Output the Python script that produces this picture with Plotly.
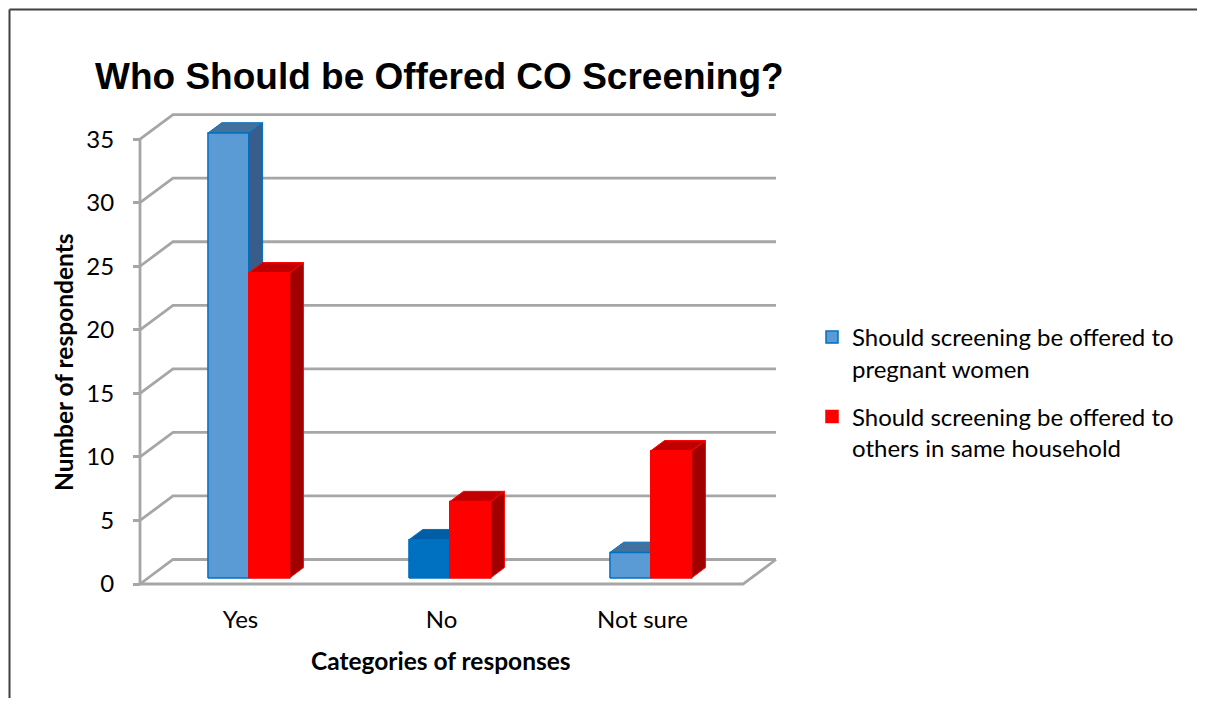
import plotly.graph_objects as go

# ---------------- data ----------------
categories = ["Yes", "No", "Not sure"]
series_names = ["Should screening be offered to<br>pregnant women",
                "Should screening be offered to<br>others in same household"]
pregnant_women = [35, 3, 2]
same_household = [24, 6, 10]
y_ticks = [0, 5, 10, 15, 20, 25, 30, 35]

# ---------------- styling / geometry ----------------
PAGE_OFF = 8                 # browser body margin
W, H = 1205 - 2 * PAGE_OFF, 706 - 2 * PAGE_OFF   # fit the window without scrollbars
# plot-area edges in screenshot pixels
SL, SR, ST, SB = 100, 800, 90, 603
ML, MT = SL - PAGE_OFF, ST - PAGE_OFF
PW, PH = SR - SL, SB - ST
MR, MB = W - ML - PW, H - MT - PH
PX_PER_CAT = 201.0
PX_PER_VAL = 12.71
X_FRONT0_PX = 240.5          # screenshot pixel of category 0 center on front plane
Y_ZERO_PX = 584.0            # screenshot pixel of value 0 on front plane
XMIN = (SL - X_FRONT0_PX) / PX_PER_CAT
XMAX = XMIN + PW / PX_PER_CAT
YMIN = -(SB - Y_ZERO_PX) / PX_PER_VAL
YMAX = (Y_ZERO_PX - ST) / PX_PER_VAL

DX = 33 / PX_PER_CAT         # depth offset (x units)
DY = 24.5 / PX_PER_VAL       # depth offset (value units)
D0, D1 = 0.25, 0.67          # bar depth span
BW = 0.203                   # bar width
YMAXV = 35

def paper(px, py):
    return (px - SL) / PW, (SB - py) / PH

grid_col = "#A6A6A6"
FONT = "Lato, Carlito, Calibri, sans-serif"

fig = go.Figure()

# back wall gridlines + left wall diagonals
gx, gy = [], []
left, right = -0.5, len(categories) - 0.5
for t in y_ticks:
    gx += [left, left + DX, right + DX, None]
    gy += [t, t + DY, t + DY, None]
fig.add_trace(go.Scatter(x=gx, y=gy, mode="lines", line=dict(color=grid_col, width=2.8),
                         hoverinfo="skip", showlegend=False))
fig.add_trace(go.Scatter(x=[left, right, right + DX], y=[0, 0, DY], mode="lines",
                         line=dict(color=grid_col, width=2.8), hoverinfo="skip", showlegend=False))
fig.add_trace(go.Scatter(x=[left, left], y=[0, YMAXV], mode="lines",
                         line=dict(color=grid_col, width=2.8), hoverinfo="skip", showlegend=False))

series = [
    dict(vals=pregnant_women, off=-BW, name=series_names[0],
         front=["#5B9BD5", "#0070C0", "#5B9BD5"],
         top=["#41719C", "#005DA6", "#41719C"],
         side=["#385D8A", "#004F8C", "#385D8A"],
         edge="#0070C0"),
    dict(vals=same_household, off=0.0, name=series_names[1],
         front=["#FF0000"] * 3, top=["#C00000"] * 3, side=["#A00000"] * 3,
         edge="#FF0000"),
]

def poly(xs, ys, fill, edge, width=1.0, text=None):
    fig.add_trace(go.Scatter(x=xs, y=ys, fill="toself", fillcolor=fill, mode="lines",
                             line=dict(color=edge, width=width), showlegend=False,
                             hoverinfo="skip" if text is None else "text",
                             text=text, hoveron="fills"))

# draw bars category by category, left to right
for i in range(len(categories)):
    for s in series:
        v = s["vals"][i]
        xl = i + s["off"]
        xr = xl + BW
        a, b = D0 * DX, D1 * DX
        c, d = D0 * DY, D1 * DY
        poly([xr + a, xr + b, xr + b, xr + a, xr + a], [c, d, v + d, v + c, c],
             s["side"][i], s["edge"])
        poly([xl + a, xr + a, xr + b, xl + b, xl + a], [v + c, v + c, v + d, v + d, v + c],
             s["top"][i], s["edge"])
        poly([xl + a, xr + a, xr + a, xl + a, xl + a], [c, c, v + c, v + c, c],
             s["front"][i], s["edge"], 1.5, text=f"{categories[i]}: {v}")

# legend entries
for s in series:
    fig.add_trace(go.Bar(x=[None], y=[None], name=s["name"], legendgroup=s["name"],
                         marker=dict(color=s["front"][0], line=dict(color=s["edge"], width=1.5))))

ypos = (left - XMIN) / (XMAX - XMIN)
fig.update_layout(
    width=W, height=H,
    margin=dict(l=ML, r=MR, t=MT, b=MB),
    paper_bgcolor="white", plot_bgcolor="white",
    font=dict(family=FONT, color="black", size=24),
    xaxis=dict(range=[XMIN, XMAX], tickvals=list(range(len(categories))), ticktext=categories,
               showgrid=False, zeroline=False, showline=False, ticks="", ticklen=0,
               tickfont=dict(size=24, family=FONT)),
    yaxis=dict(range=[YMIN, YMAX], tickvals=y_ticks, anchor="free", position=ypos,
               showgrid=False, zeroline=False, showline=False, ticks="outside", ticklen=7,
               tickwidth=2.5, tickcolor=grid_col, ticklabelstandoff=14,
               tickfont=dict(size=24, family=FONT)),
    legend=dict(x=paper(812, 0)[0], y=paper(0, 315)[1], xanchor="left", yanchor="top",
                font=dict(size=24, family=FONT), valign="top", tracegroupgap=14,
                traceorder="grouped", bgcolor="rgba(0,0,0,0)"),
    showlegend=True,
    modebar=dict(bgcolor="rgba(0,0,0,0)"),
)

tx, ty = paper(439, 77)
ax, ay = paper(441, 660)
yx, yy = paper(63, 362)
fig.add_annotation(text="<b>Who Should be Offered CO Screening?</b>", x=tx, y=ty, xref="paper",
                   yref="paper", showarrow=False, xanchor="center", yanchor="middle",
                   font=dict(family="Liberation Sans, Arial, sans-serif", size=37, color="black"))
fig.add_annotation(text="<b>Categories of responses</b>", x=ax, y=ay, xref="paper", yref="paper",
                   showarrow=False, xanchor="center", yanchor="middle",
                   font=dict(family=FONT, size=24.5, color="black"))
fig.add_annotation(text="<b>Number of respondents</b>", x=yx, y=yy, xref="paper", yref="paper",
                   showarrow=False, xanchor="center", yanchor="middle", textangle=-90,
                   font=dict(family=FONT, size=24.5, color="black"))

# outer frame: top and left edges only, ending at the figure edges
fx0, fy0 = paper(PAGE_OFF + 1.5, PAGE_OFF + 1.5)
fx1, fy1 = paper(PAGE_OFF + W, PAGE_OFF + H)
frame = dict(color="#404040", width=2)
fig.add_shape(type="line", xref="paper", yref="paper", x0=fx0, y0=fy0, x1=fx1, y1=fy0,
              line=frame, layer="below")
fig.add_shape(type="line", xref="paper", yref="paper", x0=fx0, y0=fy0, x1=fx0, y1=fy1,
              line=frame, layer="below")

fig.write_html("out.html", config={"displayModeBar": False})
